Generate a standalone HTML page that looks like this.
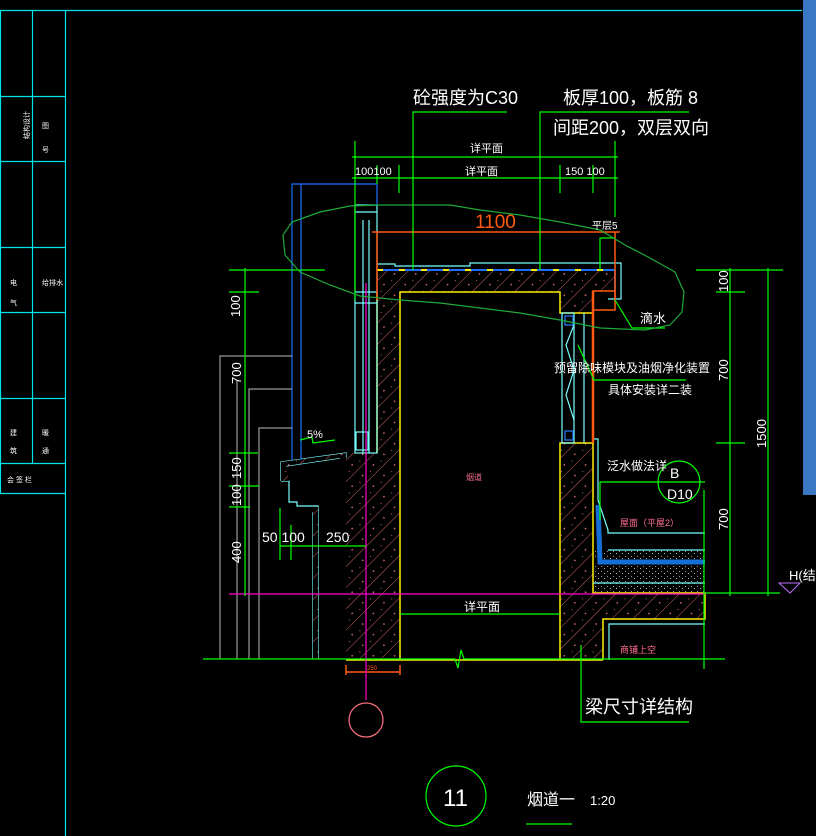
<!DOCTYPE html>
<html><head><meta charset="utf-8"><style>
html,body{margin:0;padding:0;background:#000;}
svg{display:block;}
text{font-family:"Liberation Sans","Noto Sans CJK SC",sans-serif;fill:#fff;}
</style></head><body>
<svg width="816" height="836" viewBox="0 0 816 836" xmlns="http://www.w3.org/2000/svg">
<defs>
<pattern id="h" patternUnits="userSpaceOnUse" width="15" height="15" patternTransform="rotate(45)">
<rect width="15" height="15" fill="#000"/>
<line x1="0" y1="0" x2="0" y2="15" stroke="#c86464" stroke-width="1"/>
<rect x="7" y="4" width="1.5" height="1.5" fill="#d06a6a"/>
<rect x="10" y="11" width="1" height="1" fill="#d06a6a"/>
</pattern>
<pattern id="g" patternUnits="userSpaceOnUse" width="6" height="5">
<rect width="6" height="5" fill="#000"/>
<rect x="1" y="1" width="1" height="1" fill="#999"/>
<rect x="4" y="3" width="1" height="1" fill="#bbb"/>
</pattern>
</defs>
<rect width="816" height="836" fill="#000"/>
<g stroke="#00e5ee" stroke-width="1.2" fill="none">
<line x1="0" y1="10.5" x2="802" y2="10.5"/>
<line x1="0.5" y1="10" x2="0.5" y2="493"/>
<line x1="32.5" y1="10" x2="32.5" y2="463"/>
<line x1="65.5" y1="10" x2="65.5" y2="836"/>
<line x1="0" y1="96.5" x2="65" y2="96.5"/>
<line x1="0" y1="161.5" x2="65" y2="161.5"/>
<line x1="0" y1="247.5" x2="65" y2="247.5"/>
<line x1="0" y1="312.5" x2="65" y2="312.5"/>
<line x1="0" y1="398.5" x2="65" y2="398.5"/>
<line x1="0" y1="463.5" x2="65" y2="463.5"/>
<line x1="0" y1="493.5" x2="65" y2="493.5"/>
</g>
<g font-size="7" >
<text x="10" y="150" transform="rotate(-90 14 135)">结构设计</text>
<text x="42" y="128">图</text><text x="42" y="152">号</text>
<text x="10" y="285">电</text><text x="10" y="305">气</text>
<text x="42" y="285">给排水</text>
<text x="10" y="435">建</text><text x="10" y="453">筑</text>
<text x="42" y="435">暖</text><text x="42" y="453">通</text>
<text x="7" y="482">会 签 栏</text>
</g>
<rect x="803" y="0" width="13" height="495" fill="#3a78c4"/>

<polygon points="377,270 615,270 615,291 593,291 593,313 560,313 560,292 400,292 400,660 346,660 346,453 377,453" fill="url(#h)"/>
<polygon points="560,443 593,443 593,593 705,593 705,619 603,619 603,660 560,660" fill="url(#h)"/>
<rect x="593" y="566" width="112" height="27" fill="url(#g)"/>
<rect x="593" y="550" width="112" height="11" fill="url(#g)"/>
<g stroke="#ffee00" stroke-width="1.5" fill="none">
<polyline points="400,660 400,292 560,292 560,313 593,313"/>
<polyline points="560,660 560,443 593,443 593,593 705,593 705,619 603,619 603,660"/>
<line x1="377" y1="292" x2="377" y2="453"/>
<line x1="346" y1="660" x2="603" y2="660"/>
</g>
<line x1="377" y1="270" x2="615" y2="270" stroke="#1e6fff" stroke-width="2"/>
<line x1="377" y1="270" x2="615" y2="270" stroke="#ffee00" stroke-width="2" stroke-dasharray="6,16"/>
<line x1="615" y1="270" x2="615" y2="292" stroke="#1e6fff" stroke-width="1.5"/>
<g stroke="#7ff" stroke-width="1.2" fill="none">
<polyline points="377,264 395,264 395,266 470,266 470,263 621,263 621,299 608,299"/>
<rect x="355" y="205" width="22" height="248"/>
<line x1="363" y1="220" x2="363" y2="453"/>
<line x1="369" y1="220" x2="369" y2="453"/>
<line x1="355" y1="212" x2="377" y2="212"/>
<line x1="355" y1="292" x2="377" y2="292"/>
<line x1="355" y1="303" x2="377" y2="303"/>
<rect x="356" y="432" width="12" height="18"/>
<rect x="562" y="313" width="12" height="130"/>
<rect x="565" y="316" width="8" height="9" stroke="#2a7fff"/>
<rect x="565" y="431" width="8" height="9" stroke="#2a7fff"/>
<polyline points="574,325 566,345 574,370 566,395 574,420"/>
<line x1="584" y1="313" x2="584" y2="443"/>
<polyline points="593,439 598,439 598,500 608,530 608,533 705,533"/>
<line x1="608" y1="550" x2="705" y2="550"/>
<line x1="593" y1="583" x2="705" y2="583"/>
<polyline points="609,660 609,624 705,624"/>
<polyline points="281,481 281,462 346,453 346,458"/>
<polyline points="281,481 289,481 289,502 297,502 297,506 318,506 318,659"/>
<polyline points="286,466 340,458"/>
<line x1="313" y1="512" x2="313" y2="659"/>
</g>
<polygon points="286,466 340,458 346,458 346,453 281,462 281,481 289,481" fill="url(#h)"/>
<rect x="313" y="507" width="5" height="152" fill="url(#h)"/>
<g stroke="#1e6fff" stroke-width="1.2" fill="none">
<polyline points="292,460 292,184 377,184 377,205"/>
<line x1="301" y1="184" x2="301" y2="460"/>
</g>
<path d="M598,505 L600,562 L705,562" stroke="#1470d8" stroke-width="5" fill="none"/>
<g stroke="#999" stroke-width="1.2" fill="none">
<polyline points="220,659 220,356 292,356"/>
<line x1="237" y1="380" x2="237" y2="659"/>
<polyline points="249,659 249,389 292,389"/>
<polyline points="259,659 259,428 292,428"/>
</g>
<g stroke="#ff5a10" stroke-width="1.5" fill="none">
<line x1="372" y1="232" x2="620" y2="232"/>
<line x1="377" y1="232" x2="377" y2="300"/>
<line x1="615" y1="232" x2="615" y2="298"/>
<rect x="593" y="291" width="22" height="19"/>
<line x1="593" y1="291" x2="593" y2="443" stroke-width="2.5"/>
<line x1="346" y1="672" x2="400" y2="672"/>
<line x1="346" y1="665" x2="346" y2="675"/><line x1="400" y1="665" x2="400" y2="675"/>
</g>
<text x="475" y="228" font-size="19" style="fill:#ff5a10">1100</text>
<text x="367" y="670" font-size="6" style="fill:#ff5a10">250</text>
<g stroke="#ff00cc" stroke-width="1.2">
<line x1="366" y1="283" x2="366" y2="700"/>
<line x1="229" y1="594" x2="705" y2="594"/>
</g>
<circle cx="366" cy="720" r="17" stroke="#ff7080" stroke-width="1.2" fill="none"/>
<g stroke="#00ff00" stroke-width="1.2" fill="none">
<polyline points="413,270 413,112 507,112"/>
<polyline points="540,270 540,112 689,112"/>
<line x1="352" y1="157" x2="618" y2="157"/>
<line x1="352" y1="178" x2="618" y2="178"/>
<line x1="355" y1="141" x2="355" y2="300"/>
<line x1="377" y1="165" x2="377" y2="184"/>
<line x1="399" y1="165" x2="399" y2="193"/>
<line x1="560" y1="165" x2="560" y2="193"/>
<line x1="593" y1="165" x2="593" y2="193"/>
<line x1="615" y1="141" x2="615" y2="217"/>
<polyline points="600,270 600,238 615,238"/>
<polyline points="615,300 632,328 665,328"/>
<polyline points="578,345 594,380 686,380"/>
<line x1="245" y1="268" x2="245" y2="596"/>
<line x1="229" y1="270" x2="325" y2="270"/>
<line x1="229" y1="292" x2="259" y2="292"/>
<line x1="229" y1="453" x2="258" y2="453"/>
<line x1="229" y1="486" x2="259" y2="486"/>
<line x1="229" y1="507" x2="250" y2="507"/>
<line x1="730" y1="268" x2="730" y2="596"/>
<line x1="768" y1="268" x2="768" y2="596"/>
<line x1="696" y1="270" x2="783" y2="270"/>
<line x1="716" y1="292" x2="745" y2="292"/>
<line x1="716" y1="443" x2="745" y2="443"/>
<line x1="705" y1="593" x2="780" y2="593"/>
<polyline points="600,520 600,482 705,482"/>
<line x1="704" y1="490" x2="704" y2="669"/>
<line x1="280" y1="546" x2="366" y2="546"/>
<line x1="280" y1="508" x2="280" y2="560"/>
<line x1="291" y1="525" x2="291" y2="560"/>
<line x1="400" y1="614" x2="560" y2="614"/>
<polyline points="203,659 455,659 458,668 461,650 464,659 725,659"/>
<polyline points="581,645 581,722 689,722"/>
<polyline points="300,440 312,437 313,443 335,440"/>
<line x1="526" y1="824" x2="572" y2="824"/>
</g>
<circle cx="679" cy="482" r="21" stroke="#00ff00" stroke-width="1.2" fill="none"/>
<circle cx="456" cy="796" r="30" stroke="#00ff00" stroke-width="1.2" fill="none"/>
<path d="M330,285 L300,272 L285,255 L283,235 L292,222 L320,212 L350,206 L380,205 L450,205 L480,210 L520,215 L560,222 L600,230 L625,245 L650,258 L675,272 L684,292 L682,312 L670,325 L645,330 L600,328 L560,320 L520,313 L480,308 L440,303 L400,300 L360,296 Z" stroke="#1faa3a" stroke-width="1.2" fill="none"/>
<g font-size="18">
<text x="413" y="104">砼强度为C30</text>
<text x="563" y="104">板厚100，板筋 8</text>
<text x="553" y="134">间距200，双层双向</text>
</g>
<g font-size="11">
<text x="470" y="152">详平面</text>
<text x="355" y="175">100100</text>
<text x="465" y="175">详平面</text>
<text x="565" y="175">150 100</text>
<text x="592" y="229" font-size="10">平层5</text>
<text x="640" y="323" font-size="13">滴水</text>
<text x="554" y="372" font-size="12">预留除味模块及油烟净化装置</text>
<text x="608" y="394" font-size="12">具体安装详二装</text>
<text x="607" y="470" font-size="12">泛水做法详</text>
<text x="670" y="478" font-size="14">B</text>
<text x="667" y="499" font-size="14">D10</text>
<text x="620" y="526" font-size="9" style="fill:#ff7090">屋面（平屋2）</text>
<text x="620" y="653" font-size="9" style="fill:#ff7090">商铺上空</text>
<text x="466" y="480" font-size="8" style="fill:#ff7090">烟道</text>
<text x="307" y="438" font-size="11">5%</text>
<text x="262" y="542" font-size="14">50 100</text>
<text x="326" y="542" font-size="14">250</text>
<text x="464" y="611" font-size="12">详平面</text>
<text x="585" y="713" font-size="18">梁尺寸详结构</text>
<text x="443" y="806" font-size="24">11</text>
<text x="527" y="805" font-size="16">烟道一</text>
<text x="590" y="805" font-size="13">1:20</text>
<text x="789" y="580" font-size="13">H(结</text>
</g>
<polygon points="779,583 800,583 790,593" stroke="#c070ff" fill="none"/>
<g font-size="13">
<text transform="translate(240,317) rotate(-90)">100</text>
<text transform="translate(241,384) rotate(-90)">700</text>
<text transform="translate(241,479) rotate(-90)">150</text>
<text transform="translate(241,506) rotate(-90)">100</text>
<text transform="translate(241,563) rotate(-90)">400</text>
<text transform="translate(728,292) rotate(-90)">100</text>
<text transform="translate(728,381) rotate(-90)">700</text>
<text transform="translate(728,530) rotate(-90)">700</text>
<text transform="translate(766,448) rotate(-90)">1500</text>
</g>
</svg>
</body></html>
